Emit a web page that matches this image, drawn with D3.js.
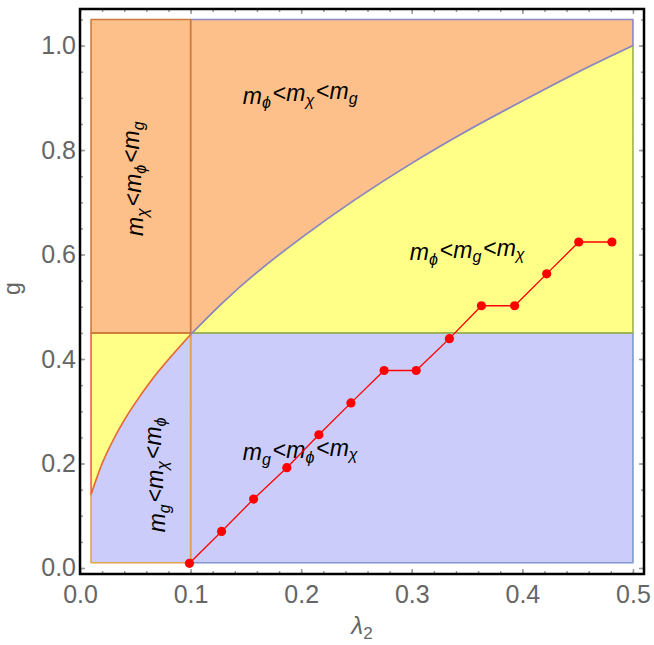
<!DOCTYPE html>
<html>
<head>
<meta charset="utf-8">
<script src="https://cdn.jsdelivr.net/npm/d3@7"></script>
<style>
body { margin: 0; background: #fff; }
text { font-family: "Liberation Sans", Arial, sans-serif; }
</style>
</head>
<body>
<div id="chart"></div>
<script>
// boundary curve (the mphi = mg line)
var curveLam = [0.01, 0.02, 0.03, 0.04, 0.05, 0.07, 0.1, 0.13, 0.16, 0.2, 0.25, 0.3, 0.35, 0.4, 0.45, 0.5];
var curveG   = [0.141, 0.2, 0.245, 0.283, 0.316, 0.374, 0.447, 0.51, 0.566, 0.632, 0.707, 0.775, 0.837, 0.894, 0.949, 1.0];
var lamMin = 0.01, lamSplit = 0.1, lamMax = 0.5;
var gMin = 0.01, gSplit = 0.45, gMax = 1.05;

// red points
var ptLam = [0.099, 0.128, 0.157, 0.187, 0.216, 0.245, 0.275, 0.304, 0.334, 0.363, 0.393, 0.422, 0.451, 0.481];
var ptG   = [0.009, 0.070, 0.132, 0.192, 0.255, 0.316, 0.378, 0.378, 0.439, 0.502, 0.502, 0.563, 0.624, 0.624];

var xTicks = [0, 0.1, 0.2, 0.3, 0.4, 0.5];
var yTicks = [0, 0.2, 0.4, 0.6, 0.8, 1.0];

var width = 654, height = 645;
var margin = {top: 9, right: 10, bottom: 71, left: 80};

var svg = d3.select("#chart").append("svg")
  .attr("width", width).attr("height", height);

var x = d3.scaleLinear().domain([0, 0.51]).range([margin.left, width - margin.right]);
var y = d3.scaleLinear().domain([-0.0115, 1.07]).range([height - margin.bottom, margin.top]);

var curve = curveLam.map(function(l, i) { return [l, curveG[i]]; });
var left = curve.filter(function(p) { return p[0] <= lamSplit; });
var right = curve.filter(function(p) { return p[0] >= lamSplit; });

var line = d3.line().x(function(d) { return x(d[0]); }).y(function(d) { return y(d[1]); });
var smooth = d3.line().x(function(d) { return x(d[0]); }).y(function(d) { return y(d[1]); })
  .curve(d3.curveCatmullRom.alpha(0.5));

// path: straight part, then smooth curve part, or the other way round
function piece(straight, curved, curvedFirst) {
  var c = smooth(curved);
  var s = straight.map(function(p) { return "L" + x(p[0]) + "," + y(p[1]); }).join("");
  if (curvedFirst) return c + s + "Z";
  return "M" + x(straight[0][0]) + "," + y(straight[0][1]) + s + c.replace(/^M/, "L") + "Z";
}

// six pieces, drawn in this order so the right boundary colours end up on top
var regions = [
  {fill: "#ccccfa", stroke: "#7d98d2", d: line([[lamSplit, gMin], [lamMax, gMin], [lamMax, gSplit], [lamSplit, gSplit]]) + "Z"},
  {fill: "#ccccfa", stroke: "#e2a24f", d: piece([[lamMin, gMin], [lamSplit, gMin]], left.slice().reverse(), false)},
  {fill: "#ffff88", stroke: "#9db54a", d: piece([[lamSplit, gSplit], [lamMax, gSplit]], right.slice().reverse(), false)},
  {fill: "#ffff88", stroke: "#e8673a", d: piece([[lamSplit, gSplit], [lamMin, gSplit]], left, true)},
  {fill: "#fdc08a", stroke: "#8c86c6", d: piece([[lamMax, gMax], [lamSplit, gMax]], right, true)},
  {fill: "#fdc08a", stroke: "#cf7a3a", d: line([[lamMin, gSplit], [lamSplit, gSplit], [lamSplit, gMax], [lamMin, gMax]]) + "Z"}
];

svg.selectAll(".region")
  .data(regions).enter()
  .append("path")
  .attr("class", "region")
  .attr("d", function(d) { return d.d; })
  .style("fill", function(d) { return d.fill; })
  .style("stroke", function(d) { return d.stroke; })
  .style("stroke-width", 1.6)
  .style("stroke-linejoin", "round");

// region labels
var labels = [
  {parts: [["m", "ϕ"], ["m", "χ"], ["m", "g"]], lam: 0.2, g: 0.889, rot: false},
  {parts: [["m", "ϕ"], ["m", "g"], ["m", "χ"]], lam: 0.351, g: 0.59, rot: false},
  {parts: [["m", "g"], ["m", "ϕ"], ["m", "χ"]], lam: 0.2, g: 0.207, rot: false},
  {parts: [["m", "χ"], ["m", "ϕ"], ["m", "g"]], lam: 0.057, g: 0.747, rot: true},
  {parts: [["m", "g"], ["m", "χ"], ["m", "ϕ"]], lam: 0.077, g: 0.18, rot: true}
];

labels.forEach(function(lb) {
  var t = svg.append("text")
    .attr("text-anchor", "middle")
    .style("font-size", "23px")
    .style("fill", "#000")
    .attr("transform", "translate(" + x(lb.lam) + "," + y(lb.g) + ")" + (lb.rot ? " rotate(-90)" : ""));
  lb.parts.forEach(function(p, i) {
    if (i > 0) t.append("tspan").text("<");
    t.append("tspan").style("font-style", "italic").text(p[0]);
    t.append("tspan").attr("dy", "0.3em").style("font-size", "16px").style("font-style", "italic").text(p[1]);
    t.append("tspan").attr("dy", "-0.3em").text("\u200a");
  });
});

// red points line
var pts = ptLam.map(function(l, i) { return [l, ptG[i]]; });
svg.append("path")
  .attr("d", line(pts))
  .style("fill", "none")
  .style("stroke", "#ff0000")
  .style("stroke-width", 1.3);
svg.selectAll(".pt")
  .data(pts).enter()
  .append("circle")
  .attr("class", "pt")
  .attr("cx", function(d) { return x(d[0]); })
  .attr("cy", function(d) { return y(d[1]); })
  .attr("r", 4.6)
  .style("fill", "#ff0000");

// ticks (inside the frame, on all sides)
var plotB = height - margin.bottom, plotR = width - margin.right;
function styleAxis(g) {
  g.select(".domain").remove();
  g.selectAll(".tick line").style("stroke", "#999").style("stroke-width", 1.5);
  g.selectAll(".tick text").style("fill", "#666").style("font-size", "25px")
    .style("font-family", "Liberation Sans, Arial, sans-serif");
}
var fmt = d3.format(".1f");
var xMinor = d3.range(0, 0.51, 0.02);
var yMinor = d3.range(0, 1.06, 0.05);

svg.append("g").attr("transform", "translate(0," + plotB + ")")
  .call(d3.axisBottom(x).tickValues(xMinor).tickSize(-3).tickFormat("")).call(styleAxis);
svg.append("g").attr("transform", "translate(0," + plotB + ")")
  .call(d3.axisBottom(x).tickValues(xTicks).tickSize(-5).tickPadding(11).tickFormat(fmt)).call(styleAxis);
svg.append("g").attr("transform", "translate(0," + margin.top + ")")
  .call(d3.axisTop(x).tickValues(xMinor).tickSize(-3).tickFormat("")).call(styleAxis);
svg.append("g").attr("transform", "translate(0," + margin.top + ")")
  .call(d3.axisTop(x).tickValues(xTicks).tickSize(-5).tickFormat("")).call(styleAxis);

svg.append("g").attr("transform", "translate(" + margin.left + ",0)")
  .call(d3.axisLeft(y).tickValues(yMinor).tickSize(-3).tickFormat("")).call(styleAxis);
svg.append("g").attr("transform", "translate(" + margin.left + ",0)")
  .call(d3.axisLeft(y).tickValues(yTicks).tickSize(-5).tickPadding(4).tickFormat(fmt)).call(styleAxis);
svg.append("g").attr("transform", "translate(" + plotR + ",0)")
  .call(d3.axisRight(y).tickValues(yMinor).tickSize(-3).tickFormat("")).call(styleAxis);
svg.append("g").attr("transform", "translate(" + plotR + ",0)")
  .call(d3.axisRight(y).tickValues(yTicks).tickSize(-5).tickFormat("")).call(styleAxis);

// frame
svg.append("rect")
  .attr("x", margin.left).attr("y", margin.top)
  .attr("width", plotR - margin.left).attr("height", plotB - margin.top)
  .style("fill", "none").style("stroke", "#000").style("stroke-width", 2.5);

// axis titles
svg.append("text")
  .attr("transform", "translate(20," + y(0.535) + ") rotate(-90)")
  .attr("text-anchor", "middle")
  .style("font-size", "23px").style("fill", "#666")
  .text("g");
var xl = svg.append("text")
  .attr("x", x(0.255)).attr("y", 634)
  .attr("text-anchor", "middle")
  .style("font-size", "24px").style("fill", "#666");
xl.append("tspan").style("font-style", "italic").text("λ");
xl.append("tspan").attr("dy", "0.3em").style("font-size", "17px").text("2");
</script>
</body>
</html>
